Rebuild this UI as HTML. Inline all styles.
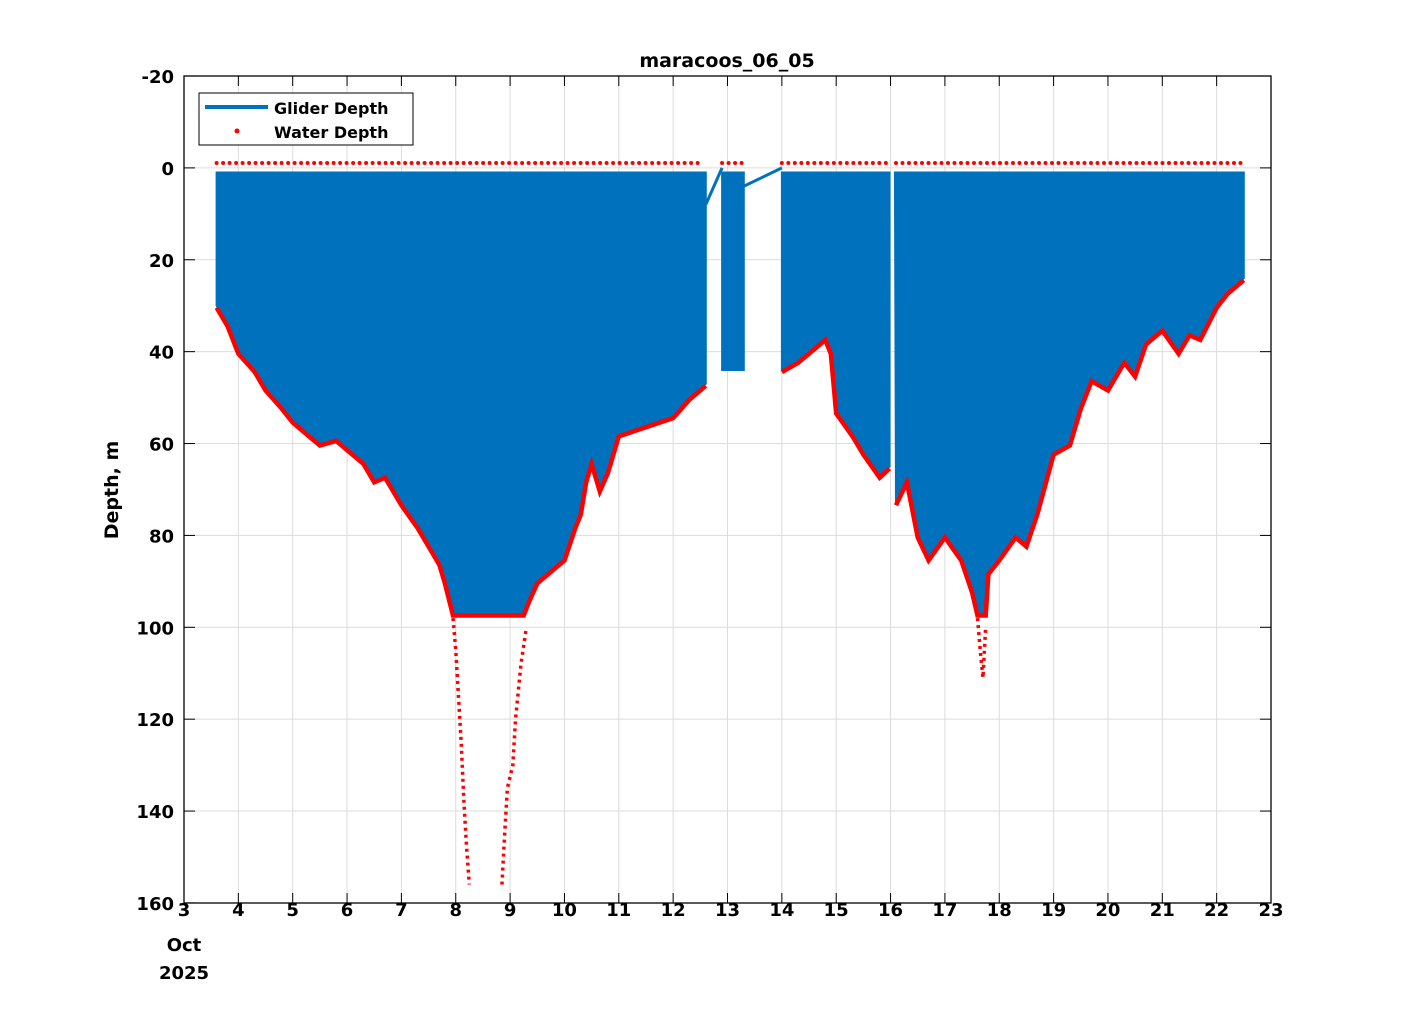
<!DOCTYPE html>
<html><head><meta charset="utf-8"><style>
body{margin:0;background:#fff}
svg text{font-family:"DejaVu Sans","Liberation Sans",sans-serif;font-weight:bold;fill:#000}
</style></head><body>
<svg id="s" width="1406" height="1016" xmlns="http://www.w3.org/2000/svg"></svg>
<script>
const s=document.getElementById('s');
const X=d=>184+(d-3)*54.35, Y=m=>167.9+m*4.594;
let h='<rect width="1406" height="1016" fill="#fff"/>';
for(let d=3;d<=23;d++){h+=`<line x1="${X(d)}" y1="76" x2="${X(d)}" y2="903" stroke="#dcdcdc" stroke-width="1"/>`;}
for(let m=-20;m<=160;m+=20){h+=`<line x1="184" y1="${Y(m)}" x2="1271" y2="${Y(m)}" stroke="#dcdcdc" stroke-width="1"/>`;}
const segs=[
[[3.6,30],[3.8,34],[4,40],[4.3,44],[4.5,48],[4.8,52],[5,55],[5.3,58],[5.5,60],[5.8,59],[6,61],[6.3,64],[6.5,68],[6.7,67],[7,73],[7.3,78],[7.5,82],[7.7,86],[7.8,90],[7.95,97],[9.25,97],[9.35,94],[9.5,90],[9.8,87],[10,85],[10.2,78],[10.3,75],[10.4,68],[10.5,64],[10.65,70],[10.8,66],[11,58],[11.5,56],[12,54],[12.3,50],[12.6,47],[12.6,1]],
[[12.9,1],[12.9,44],[13.3,44],[13.3,1]],
[[14,1],[14,44],[14.3,42],[14.6,39],[14.8,37],[14.9,40],[15,53],[15.3,58],[15.5,62],[15.8,67],[15.98,65],[15.98,1]],
[[16.08,1],[16.1,73],[16.3,68],[16.5,80],[16.7,85],[17,80],[17.3,85],[17.5,92],[17.6,97],[17.75,97],[17.8,88],[18,85],[18.3,80],[18.5,82],[18.7,75],[19,62],[19.3,60],[19.5,52],[19.7,46],[20,48],[20.3,42],[20.5,45],[20.7,38],[21,35],[21.3,40],[21.5,36],[21.7,37],[22,30],[22.2,27],[22.5,24],[22.5,1]]];
for(const sg of segs){
 let pts=sg.map(p=>X(p[0]).toFixed(1)+','+Y(p[1]).toFixed(1));
 pts.unshift(X(sg[0][0]).toFixed(1)+','+Y(1).toFixed(1));
 h+=`<polygon points="${pts.join(' ')}" fill="#0072bd" stroke="#0072bd" stroke-width="2"/>`;
 const r=sg.filter(p=>p[1]>3).map(p=>X(p[0]).toFixed(1)+','+(Y(p[1])+2).toFixed(1));
 if(r.length>2)h+=`<polyline points="${r.join(' ')}" fill="none" stroke="#f00" stroke-width="4.5"/>`;
}
h+=`<polyline points="${X(12.6)},${Y(8)} ${X(12.9)},${Y(0)}" stroke="#0072bd" stroke-width="3" fill="none"/>`;
h+=`<polyline points="${X(13.3)},${Y(4)} ${X(14)},${Y(0)}" stroke="#0072bd" stroke-width="3" fill="none"/>`;
const dips=[[[7.95,98],[8.0,105],[8.05,115],[8.1,125],[8.15,138],[8.2,148],[8.25,156]],[[8.85,156],[8.9,145],[8.95,135],[9.05,130],[9.1,120],[9.2,108],[9.3,100]],[[17.6,98],[17.65,105],[17.7,111],[17.75,100]]];
for(const dp of dips){h+=`<polyline points="${dp.map(p=>X(p[0])+','+Y(p[1])).join(' ')}" fill="none" stroke="#f00" stroke-width="3.5" stroke-dasharray="3 4"/>`;}
const ranges=[[3.6,12.5],[12.9,13.3],[14,15.95],[16.1,22.5]];
for(const r of ranges){for(let x=X(r[0]);x<=X(r[1]);x+=6.5)h+=`<circle cx="${x}" cy="163" r="2" fill="#f00"/>`;}
h+=`<rect x="184" y="76" width="1087" height="827" fill="none" stroke="#000" stroke-width="1.3"/>`;
for(let d=3;d<=23;d++){let x=X(d);h+=`<line x1="${x}" y1="903" x2="${x}" y2="893" stroke="#000"/><line x1="${x}" y1="76" x2="${x}" y2="86" stroke="#000"/>`;
 h+=`<text x="${x}" y="916" font-size="18" text-anchor="middle">${d}</text>`;}
for(let m=-20;m<=160;m+=20){let y=Y(m);h+=`<line x1="184" y1="${y}" x2="195" y2="${y}" stroke="#000"/><line x1="1271" y1="${y}" x2="1260" y2="${y}" stroke="#000"/>`;
 h+=`<text x="174" y="${y+7}" font-size="18" text-anchor="end">${m}</text>`;}
h+=`<text x="184" y="951" font-size="18" text-anchor="middle">Oct</text><text x="184" y="979" font-size="18" text-anchor="middle">2025</text>`;
h+=`<text x="727" y="67" font-size="19" text-anchor="middle">maracoos_06_05</text>`;
h+=`<text transform="translate(118,490) rotate(-90)" font-size="19" text-anchor="middle">Depth, m</text>`;
h+=`<rect x="199" y="93" width="214" height="52" fill="#fff" stroke="#000"/>`;
h+=`<line x1="205" y1="107" x2="268" y2="107" stroke="#0072bd" stroke-width="4"/><text x="274" y="114" font-size="16">Glider Depth</text>`;
h+=`<circle cx="237" cy="131" r="2.5" fill="#f00"/><text x="274" y="138" font-size="16">Water Depth</text>`;
s.innerHTML=h;
</script>
</body></html>
